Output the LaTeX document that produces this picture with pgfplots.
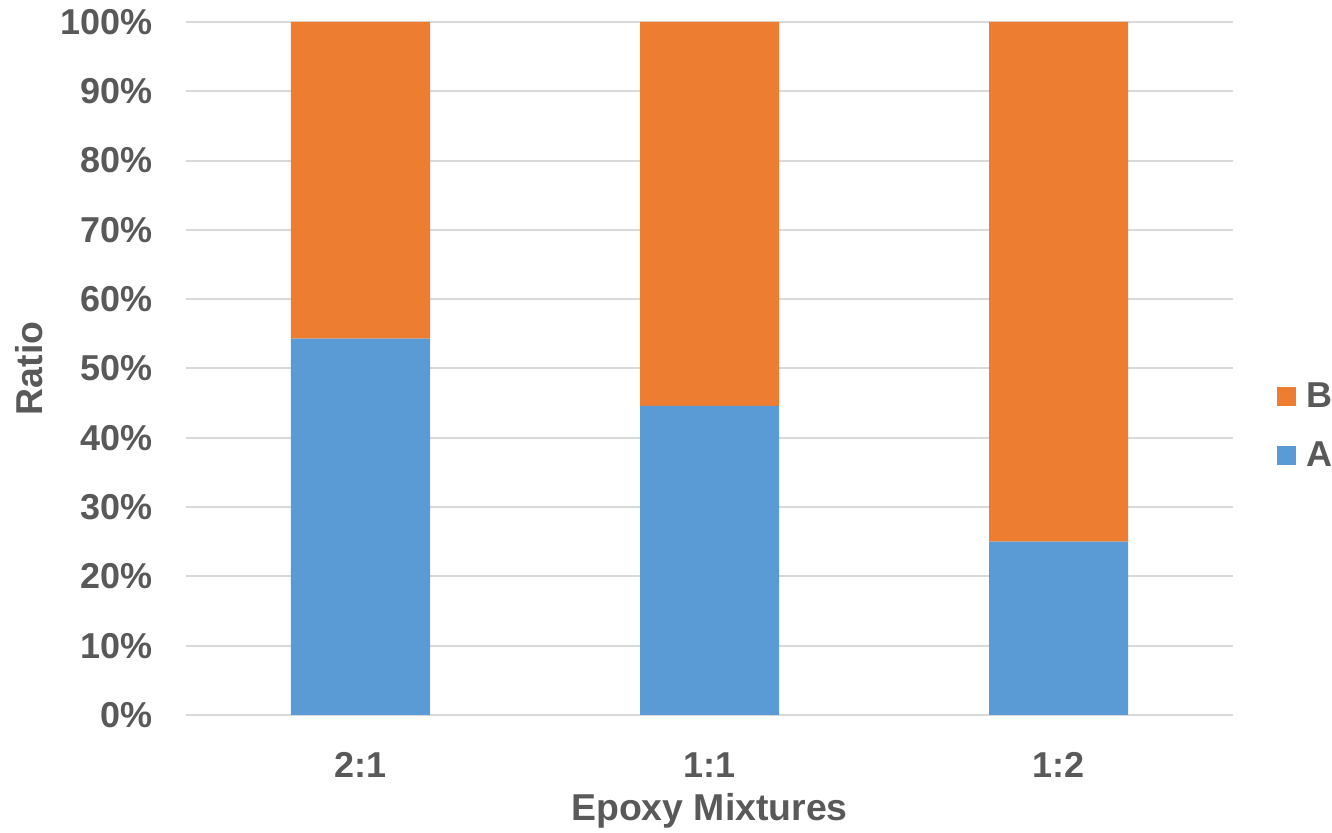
\documentclass[border=0pt]{standalone}
\usepackage{fontspec}
\setmainfont{Liberation Sans}
\usepackage{pgfplots}
\pgfplotsset{compat=1.18}
\definecolor{barA}{HTML}{5B9BD5}
\definecolor{barB}{HTML}{ED7D31}
\definecolor{gridc}{HTML}{D9D9D9}
\definecolor{txt}{HTML}{595959}
\newcommand{\lblfont}{\fontsize{18}{18}\selectfont\bfseries}
\newcommand{\axlblfont}{\fontsize{18.7}{18.7}\selectfont\bfseries}
\begin{document}
\begin{tikzpicture}
\useasboundingbox (-93pt,-59pt) rectangle (573pt,357.5pt);
\begin{axis}[
  scale only axis, width=523.5pt, height=346.5pt,
  ybar stacked, bar width=69.5pt,
  xmin=-0.5, xmax=2.5, ymin=0, ymax=100,
  xtick={0,1,2}, xticklabels={2:1,1:1,1:2},
  ytick={0,10,...,100},
  yticklabel={\pgfmathprintnumber{\tick}\%},
  ymajorgrids, grid style={gridc, line width=1pt},
  axis line style={draw=none},
  major tick length=0pt,
  /pgf/number format/assume math mode=true,
  tick label style={font=\lblfont, text=txt},
  yticklabel style={anchor=east, inner sep=0pt, xshift=-16.5pt},
  xticklabel style={anchor=north, inner sep=0pt, yshift=-18.5pt},
  xlabel={Epoxy Mixtures}, ylabel={Ratio},
  label style={font=\axlblfont, text=txt},
  xlabel style={at={([yshift=-39pt]axis description cs:0.5,0)}, anchor=north, inner sep=0pt},
  ylabel style={at={([xshift=-71.5pt]axis description cs:0,0.5)}, anchor=south, inner sep=0pt},
  legend style={at={(axis description cs:1.042,0.417)}, anchor=west, draw=none, fill=none,
    font=\lblfont, text=txt, inner sep=0pt, row sep=16pt, column sep=5pt,
    nodes={inner sep=0pt}},
  legend cell align=left,
  reverse legend,
]
\addplot[fill=barA, draw=none, legend image code/.code={\fill[barA] (0pt,-4.75pt) rectangle (9.5pt,4.75pt);}]
  coordinates {(0,54.3) (1,44.6) (2,25.0)};
\addplot[fill=barB, draw=none, legend image code/.code={\fill[barB] (0pt,-4.75pt) rectangle (9.5pt,4.75pt);}]
  coordinates {(0,45.7) (1,55.4) (2,75.0)};
\legend{A,B}
\end{axis}
\end{tikzpicture}
\end{document}
